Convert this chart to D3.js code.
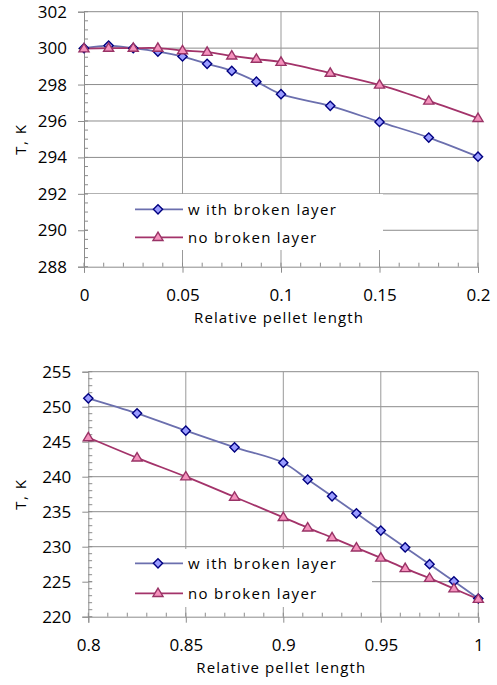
<!DOCTYPE html>
<html>
<head>
<meta charset="utf-8">
<script src="https://cdn.jsdelivr.net/npm/d3@7"></script>
<style>
  body { margin: 0; background: #fff; }
  svg { display: block; font-family: "Open Sans", sans-serif; }
</style>
</head>
<body>
<script>
// top panel: start of the pellet
const xTop = [0, 0.0125, 0.025, 0.0375, 0.05, 0.0625, 0.075, 0.0875, 0.1, 0.125, 0.15, 0.175, 0.2];
const brokenTop = [300.0, 300.14, 300.0, 299.81, 299.54, 299.14, 298.75, 298.16, 297.47, 296.83, 295.95, 295.09, 294.04];
const intactTop = [299.97, 300.0, 300.0, 300.0, 299.87, 299.78, 299.58, 299.4, 299.23, 298.63, 297.98, 297.1, 296.15];
const xTicksTop = [0, 0.05, 0.1, 0.15, 0.2];
const yTicksTop = [288, 290, 292, 294, 296, 298, 300, 302];

// bottom panel: end of the pellet
const xBottom = [0.8, 0.825, 0.85, 0.875, 0.9, 0.9125, 0.925, 0.9375, 0.95, 0.9625, 0.975, 0.9875, 1.0];
const brokenBottom = [251.2, 249.05, 246.57, 244.2, 242.0, 239.6, 237.2, 234.77, 232.3, 229.9, 227.5, 225.05, 222.6];
const intactBottom = [245.6, 242.7, 240.0, 237.1, 234.2, 232.7, 231.3, 229.85, 228.4, 226.9, 225.5, 224.0, 222.5];
const xTicksBottom = [0.8, 0.85, 0.9, 0.95, 1];
const yTicksBottom = [220, 225, 230, 235, 240, 245, 250, 255];

const seriesNames = ['w ith broken layer', 'no broken layer'];
const xTitle = 'Relative pellet length';
const yTitle = 'T, K';

const W = 497, H = 685;
const gridColor = '#8c8c8c';
const blueLine = '#6b6fae', blueFill = '#9a9cff', blueStroke = '#000080';
const pinkLine = '#a3336a', pinkFill = '#f592bd', pinkStroke = '#993366';

const svg = d3.select('body').append('svg')
  .attr('width', W)
  .attr('height', H);

// diamond = square turned 45 degrees, as in the spreadsheet markers
function marker(shape, size) {
  if (shape === 'diamond') {
    const r = size;
    return 'M0,' + (-r) + 'L' + r + ',0L0,' + r + 'L' + (-r) + ',0Z';
  }
  const h = size * 1.75, w = size * 1.05;
  return 'M0,' + (-h * 0.62) + 'L' + w + ',' + (h * 0.38) + 'L' + (-w) + ',' + (h * 0.38) + 'Z';
}

function drawPanel(p) {
  const x = d3.scaleLinear().domain(p.xDomain).range([p.left, p.right]);
  const y = d3.scaleLinear().domain(p.yDomain).range([p.bottom, p.top]);
  const g = svg.append('g');

  // horizontal grid
  g.append('g')
    .selectAll('line')
    .data(p.yTicks.slice(1))
    .enter()
    .append('line')
    .attr('x1', p.left).attr('x2', p.right)
    .attr('y1', (d) => y(d)).attr('y2', (d) => y(d))
    .attr('stroke', gridColor);

  // vertical grid
  g.append('g')
    .selectAll('line')
    .data(p.xTicks.slice(1))
    .enter()
    .append('line')
    .attr('x1', (d) => x(d)).attr('x2', (d) => x(d))
    .attr('y1', p.top).attr('y2', p.bottom)
    .attr('stroke', '#999');

  // minor ticks
  const yMinor = d3.range(p.yDomain[0], p.yDomain[1] + 1e-9, p.yMinor);
  g.append('g')
    .selectAll('line')
    .data(yMinor)
    .enter()
    .append('line')
    .attr('x1', p.left).attr('x2', p.left + 4)
    .attr('y1', (d) => y(d)).attr('y2', (d) => y(d))
    .attr('stroke', gridColor);
  const xMinor = d3.range(p.xDomain[0], p.xDomain[1] + 1e-9, p.xMinor);
  g.append('g')
    .selectAll('line')
    .data(xMinor)
    .enter()
    .append('line')
    .attr('x1', (d) => x(d)).attr('x2', (d) => x(d))
    .attr('y1', p.bottom - 4).attr('y2', p.bottom)
    .attr('stroke', gridColor);

  const xAxis = d3.axisBottom(x)
    .tickValues(p.xTicks)
    .tickFormat((d) => String(+d.toFixed(2)))
    .tickSize(6)
    .tickPadding(16);
  const yAxis = d3.axisLeft(y)
    .tickValues(p.yTicks)
    .tickSize(6)
    .tickPadding(11);

  const gx = g.append('g')
    .attr('transform', 'translate(0,' + p.bottom + ')')
    .call(xAxis);
  const gy = g.append('g')
    .attr('transform', 'translate(' + p.left + ',0)')
    .call(yAxis);
  [gx, gy].forEach((a) => {
    a.select('.domain').attr('stroke', gridColor);
    a.selectAll('.tick line').attr('stroke', gridColor);
    a.selectAll('.tick text')
      .attr('fill', '#000')
      .style('font-size', '17px')
      .style('font-family', '"Open Sans", sans-serif');
  });

  g.append('text')
    .text(xTitle)
    .attr('x', (p.left + p.right) / 2 - 2)
    .attr('y', p.bottom + 56)
    .attr('text-anchor', 'middle')
    .style('font-size', '15px')
    .style('letter-spacing', '1.1px');
  g.append('text')
    .text(yTitle)
    .attr('transform', 'translate(26,' + ((p.top + p.bottom) / 2) + ') rotate(-90)')
    .attr('text-anchor', 'middle')
    .style('font-size', '15px')
    .style('letter-spacing', '1.5px');

  // legend background hides the grid behind it
  g.append('rect')
    .attr('x', p.left + 4).attr('y', p.legend.top)
    .attr('width', p.legend.right - p.left - 4)
    .attr('height', p.legend.height)
    .attr('fill', '#fff');

  const series = [
    { vals: p.broken, line: blueLine, fill: blueFill, stroke: blueStroke, shape: 'diamond', size: 4.6 },
    { vals: p.intact, line: pinkLine, fill: pinkFill, stroke: pinkStroke, shape: 'triangle', size: 4.8 }
  ];

  const line = d3.line()
    .x((d) => x(d[0]))
    .y((d) => y(d[1]))
    .curve(d3.curveCatmullRom.alpha(0.5));

  series.forEach((s) => {
    const pts = p.xs.map((v, i) => [v, s.vals[i]]);
    g.append('path')
      .datum(pts)
      .attr('d', line)
      .attr('fill', 'none')
      .attr('stroke', s.line)
      .attr('stroke-width', 1.8);
  });
  series.forEach((s) => {
    const pts = p.xs.map((v, i) => [v, s.vals[i]]);
    g.append('g')
      .selectAll('path')
      .data(pts)
      .enter()
      .append('path')
      .attr('d', marker(s.shape, s.size))
      .attr('transform', (d) => 'translate(' + x(d[0]) + ',' + y(d[1]) + ')')
      .attr('fill', s.fill)
      .attr('stroke', s.stroke)
      .attr('stroke-width', 1.4);
  });

  // legend entries
  series.forEach((s, i) => {
    const ly = p.legend.rows[i];
    g.append('line')
      .attr('x1', 135).attr('x2', 183)
      .attr('y1', ly).attr('y2', ly)
      .attr('stroke', s.line)
      .attr('stroke-width', 1.8);
    g.append('path')
      .attr('d', marker(s.shape, s.size))
      .attr('transform', 'translate(158,' + ly + ')')
      .attr('fill', s.fill)
      .attr('stroke', s.stroke)
      .attr('stroke-width', 1.4);
    g.append('text')
      .text(seriesNames[i])
      .attr('x', 188)
      .attr('y', ly)
      .attr('dy', '0.35em')
      .style('font-size', '15px')
      .style('letter-spacing', '1.3px');
  });
}

drawPanel({
  xs: xTop, broken: brokenTop, intact: intactTop,
  xDomain: [0, 0.2], yDomain: [288, 302],
  xTicks: xTicksTop, yTicks: yTicksTop, xMinor: 0.01, yMinor: 0.5,
  left: 84, right: 478, top: 11.7, bottom: 266.7,
  legend: { top: 194, height: 56, right: 383, rows: [209.3, 237.3] }
});

drawPanel({
  xs: xBottom, broken: brokenBottom, intact: intactBottom,
  xDomain: [0.8, 1], yDomain: [220, 255],
  xTicks: xTicksBottom, yTicks: yTicksBottom, xMinor: 0.01, yMinor: 1,
  left: 88.3, right: 478.3, top: 371.7, bottom: 616.7,
  legend: { top: 549, height: 58, right: 372, rows: [563.3, 593.3] }
});
</script>
</body>
</html>
